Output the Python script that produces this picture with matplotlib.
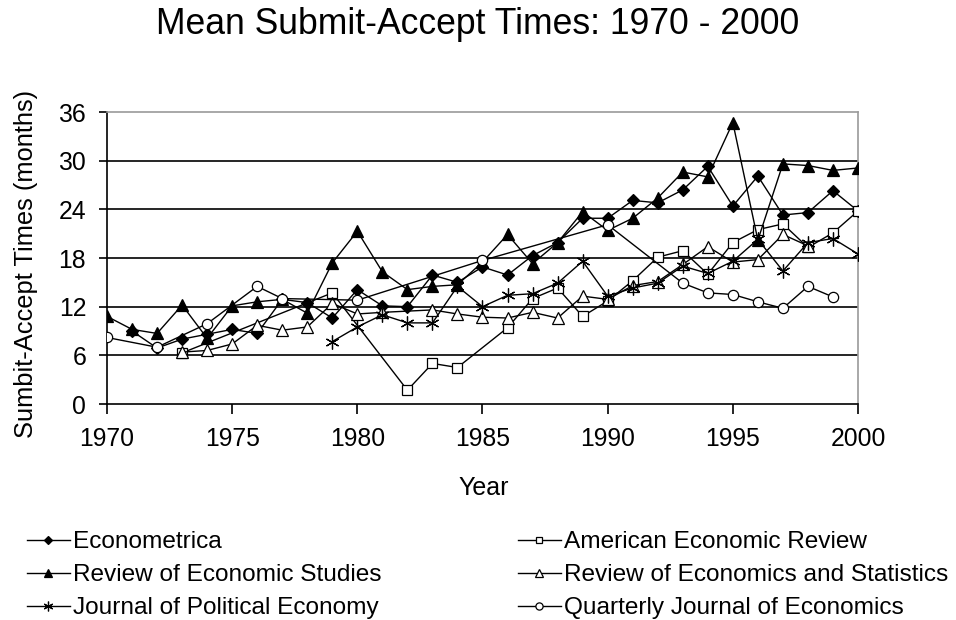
import numpy as np
import matplotlib
matplotlib.use("Agg")
import matplotlib.pyplot as plt

plt.rcParams['font.family'] = ['Liberation Sans', 'DejaVu Sans']

years = list(range(1970, 2001))
N = None

econometrica = [N, 9.0, 6.9, 8.0, 8.6, 9.2, 8.7, 12.9, 12.5, 10.6,
                14.1, 12.1, 12.0, 15.9, 15.0, 16.9, 15.9, 18.3, 19.9, 22.9,
                22.9, 25.1, 24.8, 26.4, 29.3, 24.4, 28.1, 23.3, 23.6, 26.3, 23.8]
aer = [N, N, N, 6.3, N, N, N, N, N, 13.7,
       N, N, 1.7, 5.0, 4.5, N, 9.4, 13.0, 14.3, 10.8,
       12.7, 15.2, 18.1, 18.9, 16.0, 19.9, 21.5, 22.2, 19.3, 21.1, 23.8]
restud = [10.8, 9.2, 8.7, 12.2, 8.1, 12.1, 12.6, 12.9, 11.2, 17.4,
          21.3, 16.3, 14.1, 14.5, 14.7, 17.5, 20.9, 17.3, 19.9, 23.7,
          21.4, 22.9, 25.4, 28.6, 28.0, 34.7, 20.2, 29.6, 29.4, 28.8, 29.1]
restat = [N, N, N, 6.4, 6.6, 7.4, 9.7, 9.1, 9.5, 12.4,
          11.1, 11.3, N, 11.6, 11.1, 10.7, 10.6, 11.3, 10.6, 13.3,
          12.9, 14.6, 15.1, 17.2, 19.4, 17.5, 17.8, 20.9, 19.5, N, N]
jpe = [N, N, N, N, N, N, N, N, N, 7.7,
       9.5, 11.0, 10.0, 10.0, 14.5, 12.0, 13.4, 13.6, 14.9, 17.6,
       13.3, 14.3, 14.9, 17.0, 16.1, 17.6, 20.3, 16.4, 19.9, 20.4, 18.5]
qje = [8.2, N, 7.0, N, 9.9, N, 14.5, 13.0, N, N,
       12.8, N, N, N, N, 17.7, N, N, N, N,
       22.1, N, N, 14.9, 13.7, 13.5, 12.6, 11.8, 14.5, 13.2, N]

labels = ["Econometrica", "American Economic Review", "Review of Economic Studies",
          "Review of Economics and Statistics", "Journal of Political Economy",
          "Quarterly Journal of Economics"]
series = [econometrica, aer, restud, restat, jpe, qje]

asterisk = (6, 2, 0)
styles = [
    dict(marker='D', ms=6.5, mfc='black', mec='black'),
    dict(marker='s', ms=6.8, mfc='white', mec='black'),
    dict(marker='^', ms=8.6, mfc='black', mec='black'),
    dict(marker='^', ms=8.0, mfc='white', mec='black'),
    dict(marker=asterisk, ms=10, mfc='black', mec='black'),
    dict(marker='o', ms=7.4, mfc='white', mec='black'),
]

fig = plt.figure(figsize=(9.56, 6.2), dpi=100)
L, R, T, B = 107, 858, 112, 404
ax = fig.add_axes([L / 956, 1 - B / 620, (R - L) / 956, (B - T) / 620])

handles = {}
for lab, vals, st in zip(labels, series, styles):
    x = np.array([y for y, v in zip(years, vals) if v is not None])
    y = np.array([v for v in vals if v is not None], dtype=float)
    h, = ax.plot(x, y, color='black', lw=1.0, mew=0.9, label=lab, zorder=3, **st)
    handles[lab] = h

ax.set_xlim(1970, 2000)
ax.set_ylim(0, 36)
yt = list(range(0, 37, 6))
ax.set_yticks(yt)
ax.set_xticks(list(range(1970, 2001, 5)))
for v in yt[1:-1]:
    ax.axhline(v, color='black', lw=1.2, zorder=1)

for s in ['left', 'bottom']:
    ax.spines[s].set_color('black')
    ax.spines[s].set_linewidth(1.2)
for s in ['top', 'right']:
    ax.spines[s].set_color('#9a9a9a')
    ax.spines[s].set_linewidth(1.2)

ax.tick_params(axis='both', direction='out', length=6, width=1.2, color='black',
               labelsize=17.8)
ax.tick_params(axis='y', pad=9)
ax.tick_params(axis='x', length=7, pad=9.5)

fig.text(0.5, 1 - 25 / 620, "Mean Submit-Accept Times: 1970 - 2000",
         ha='center', va='center', fontsize=25.6)
fig.text(484 / 956, 1 - 488 / 620, "Year", ha='center', va='center', fontsize=18)
fig.text(26 / 956, 1 - 264 / 620, "Sumbit-Accept Times (months)", ha='center',
         va='center', rotation=90, fontsize=18.4)

order = ["Econometrica", "Review of Economic Studies", "Journal of Political Economy",
         "American Economic Review", "Review of Economics and Statistics",
         "Quarterly Journal of Economics"]
fig.legend([handles[k] for k in order], order, loc='upper left',
           bbox_to_anchor=(27 / 956, 1 - 531 / 620), ncol=2, frameon=False,
           fontsize=17.6, handlelength=1.75, handletextpad=0.12,
           columnspacing=5.6, labelspacing=0.45, borderpad=0, borderaxespad=0,
           markerscale=0.7)

fig.savefig("out.png", dpi=100)
